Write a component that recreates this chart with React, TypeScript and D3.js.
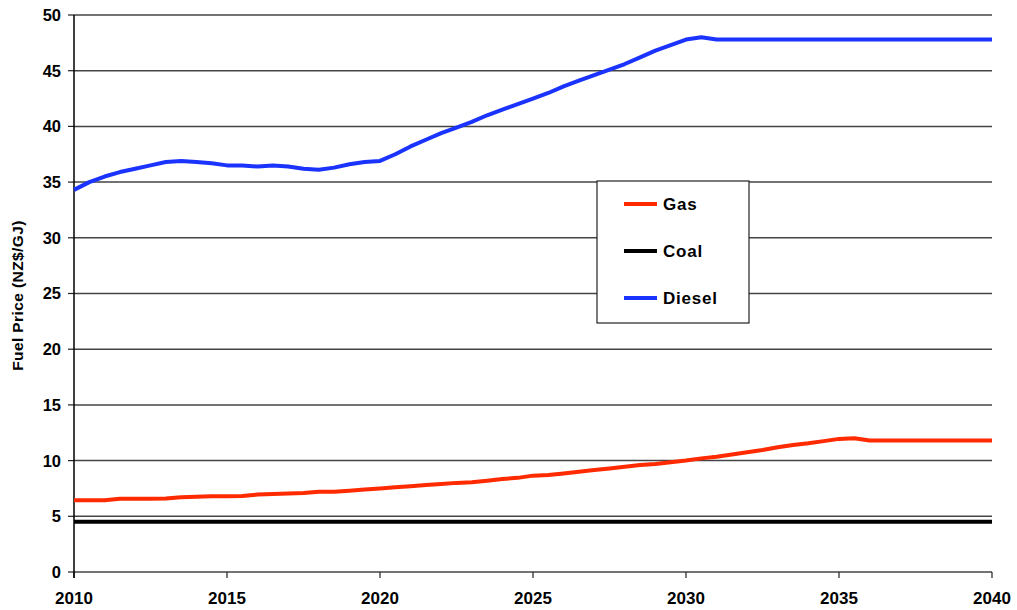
import React from "react";
import * as d3 from "d3";

const years: number[] = [
  2010, 2010.5, 2011, 2011.5, 2012, 2012.5, 2013, 2013.5, 2014, 2014.5, 2015, 2015.5,
  2016, 2016.5, 2017, 2017.5, 2018, 2018.5, 2019, 2019.5, 2020, 2020.5, 2021, 2021.5,
  2022, 2022.5, 2023, 2023.5, 2024, 2024.5, 2025, 2025.5, 2026, 2026.5, 2027, 2027.5,
  2028, 2028.5, 2029, 2029.5, 2030, 2030.5, 2031, 2031.5, 2032, 2032.5, 2033, 2033.5,
  2034, 2034.5, 2035, 2035.5, 2036, 2036.5, 2037, 2037.5, 2038, 2038.5, 2039, 2039.5, 2040,
];

const gas: number[] = [
  6.45, 6.45, 6.45, 6.58, 6.58, 6.58, 6.6, 6.7, 6.75, 6.8, 6.8, 6.82,
  6.95, 7.0, 7.05, 7.1, 7.2, 7.2, 7.3, 7.4, 7.5, 7.6, 7.7, 7.8,
  7.9, 8.0, 8.05, 8.2, 8.35, 8.45, 8.65, 8.7, 8.85, 9.0, 9.15, 9.3,
  9.45, 9.6, 9.7, 9.85, 10.0, 10.2, 10.35, 10.55, 10.75, 10.95, 11.2, 11.4,
  11.55, 11.75, 11.95, 12.0, 11.8, 11.8, 11.8, 11.8, 11.8, 11.8, 11.8, 11.8, 11.8,
];

const coal: number[] = [
  4.5, 4.5, 4.5, 4.5, 4.5, 4.5, 4.5, 4.5, 4.5, 4.5, 4.5, 4.5,
  4.5, 4.5, 4.5, 4.5, 4.5, 4.5, 4.5, 4.5, 4.5, 4.5, 4.5, 4.5,
  4.5, 4.5, 4.5, 4.5, 4.5, 4.5, 4.5, 4.5, 4.5, 4.5, 4.5, 4.5,
  4.5, 4.5, 4.5, 4.5, 4.5, 4.5, 4.5, 4.5, 4.5, 4.5, 4.5, 4.5,
  4.5, 4.5, 4.5, 4.5, 4.5, 4.5, 4.5, 4.5, 4.5, 4.5, 4.5, 4.5, 4.5,
];

const diesel: number[] = [
  34.3, 35.0, 35.5, 35.9, 36.2, 36.5, 36.8, 36.9, 36.8, 36.7, 36.5, 36.5,
  36.4, 36.5, 36.4, 36.2, 36.1, 36.3, 36.6, 36.8, 36.9, 37.5, 38.2, 38.8,
  39.4, 39.9, 40.4, 41.0, 41.5, 42.0, 42.5, 43.0, 43.6, 44.1, 44.6, 45.1,
  45.6, 46.2, 46.8, 47.3, 47.8, 48.0, 47.8, 47.8, 47.8, 47.8, 47.8, 47.8,
  47.8, 47.8, 47.8, 47.8, 47.8, 47.8, 47.8, 47.8, 47.8, 47.8, 47.8, 47.8, 47.8,
];

const xTicks: number[] = [2010, 2015, 2020, 2025, 2030, 2035, 2040];
const yTicks: number[] = [0, 5, 10, 15, 20, 25, 30, 35, 40, 45, 50];

const seriesNames: string[] = ["Gas", "Coal", "Diesel"];
const seriesColors: string[] = ["#ff2a00", "#000000", "#1a33ff"];
const yTitle = "Fuel Price (NZ$/GJ)";

export default function App() {
  const W = 1017;
  const H = 610;
  const left = 74;
  const right = 992;
  const top = 15;
  const bottom = 572;

  const x = d3.scaleLinear().domain([2010, 2040]).range([left, right]);
  const y = d3.scaleLinear().domain([0, 50]).range([bottom, top]);

  const seriesData = [gas, coal, diesel];
  const line = d3
    .line<[number, number]>()
    .x((d) => x(d[0]))
    .y((d) => y(d[1]));

  const font = "'Liberation Sans', Arial, sans-serif";

  return (
    <svg
      width={W}
      height={H}
      style={{ position: "absolute", left: 0, top: 0, background: "#fff" }}
      fontFamily={font}
    >
      {yTicks.filter((t) => t > 0).map((t) => (
        <line key={"g" + t} x1={left} x2={right} y1={y(t)} y2={y(t)} stroke="#444" strokeWidth={1.5} />
      ))}
      {yTicks.map((t) => (
        <line key={"yt" + t} x1={left - 6} x2={left} y1={y(t)} y2={y(t)} stroke="#222" strokeWidth={1.2} />
      ))}
      <line x1={left} x2={right} y1={bottom} y2={bottom} stroke="#444" strokeWidth={1.5} />
      {xTicks.map((t) => (
        <line key={"xt" + t} x1={x(t)} x2={x(t)} y1={bottom} y2={bottom + 6} stroke="#222" strokeWidth={1.2} />
      ))}
      <line x1={left} x2={left} y1={top} y2={bottom + 6} stroke="#000" strokeWidth={1.5} />

      {seriesData.map((vals, i) => (
        <path
          key={seriesNames[i]}
          d={line(years.map((yr, j) => [yr, vals[j]] as [number, number])) || ""}
          fill="none"
          stroke={seriesColors[i]}
          strokeWidth={4}
          strokeLinejoin="round"
        />
      ))}

      {yTicks.map((t) => (
        <text
          key={"yl" + t}
          x={left - 13}
          y={y(t)}
          dy="0.36em"
          textAnchor="end"
          fontSize={16.5}
          fontWeight="bold"
          fill="#000"
        >
          {t}
        </text>
      ))}
      {xTicks.map((t) => (
        <text
          key={"xl" + t}
          x={x(t)}
          y={604}
          textAnchor="middle"
          fontSize={17}
          fontWeight="bold"
          fill="#000"
        >
          {t}
        </text>
      ))}
      <text
        transform={`translate(23, ${(top + bottom) / 2 + 2}) rotate(-90)`}
        textAnchor="middle"
        fontSize={15.5}
        fontWeight="bold"
        letterSpacing={0.4}
        fill="#000"
      >
        {yTitle}
      </text>

      <rect x={597} y={181} width={152} height={142} fill="#fff" stroke="#222" strokeWidth={1.2} />
      {seriesNames.map((n, i) => {
        const ly = 204 + i * 47;
        return (
          <g key={"lg" + n}>
            <line x1={624} x2={657} y1={ly} y2={ly} stroke={seriesColors[i]} strokeWidth={4} />
            <text x={663} y={ly} dy="0.36em" fontSize={17} fontWeight="bold" letterSpacing={0.8} fill="#000">
              {n}
            </text>
          </g>
        );
      })}
    </svg>
  );
}
